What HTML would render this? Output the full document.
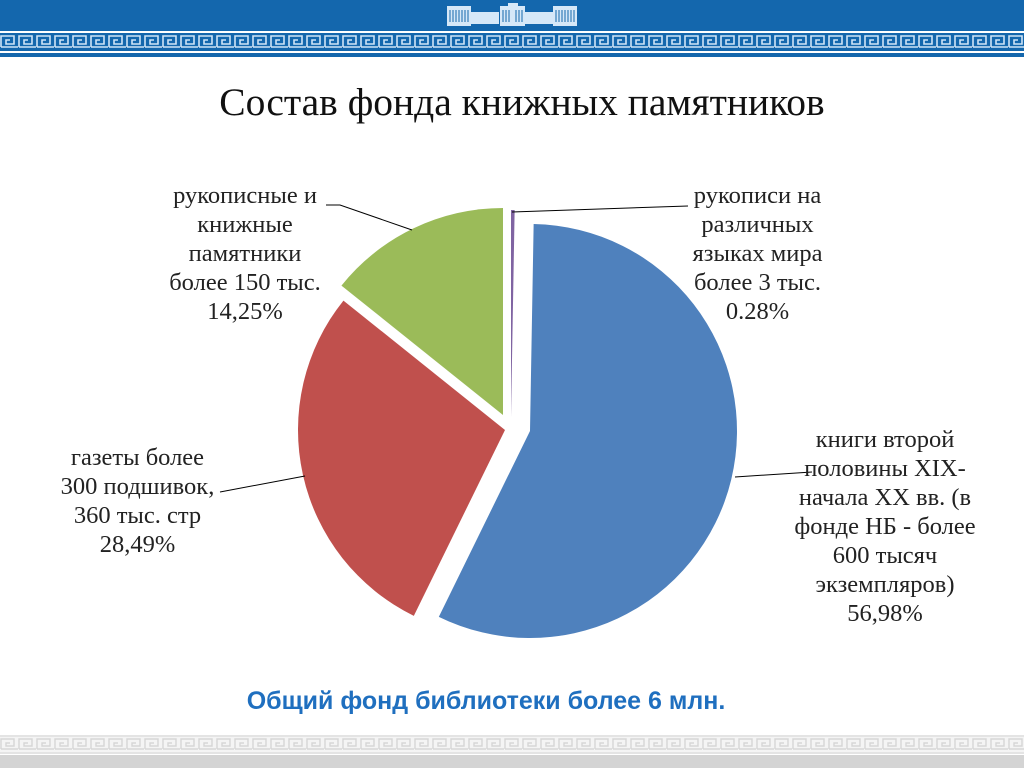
<!DOCTYPE html>
<html><head><meta charset="utf-8"><style>
body{margin:0;width:1024px;height:768px;background:#fff;position:relative;overflow:hidden;font-family:"Liberation Serif",serif;}
.t{position:absolute;font-size:24.5px;color:#222;text-align:center;line-height:29px;white-space:nowrap;}
</style></head><body>
<svg width="1024" height="768" style="position:absolute;left:0;top:0">
<defs>
<pattern id="mk" x="0" y="34" width="18" height="15" patternUnits="userSpaceOnUse">
<rect width="18" height="15" fill="#1467ad"/>
<path d="M1 13 V2 H14 V10 H6 V6 H10" fill="none" stroke="#cfe4f7" stroke-width="1.6"/>
<path d="M1 13 H18" stroke="#cfe4f7" stroke-width="1.6"/>
</pattern>
<pattern id="mg" x="0" y="737" width="18" height="14" patternUnits="userSpaceOnUse">
<rect width="18" height="14" fill="#f4f4f4"/>
<path d="M1 12 V2 H14 V9 H6 V6 H10" fill="none" stroke="#d6d6d6" stroke-width="1.4"/>
<path d="M1 12 H18" stroke="#d6d6d6" stroke-width="1.4"/>
</pattern>
</defs>
<rect x="0" y="0" width="1024" height="31" fill="#1467ad"/>
<rect x="0" y="31" width="1024" height="2" fill="#fff"/>
<rect x="0" y="33" width="1024" height="1" fill="#1467ad"/>
<rect x="0" y="34" width="1024" height="16" fill="url(#mk)"/>
<rect x="0" y="50" width="1024" height="1" fill="#1467ad"/>
<rect x="0" y="51" width="1024" height="2" fill="#fff"/>
<rect x="0" y="53" width="1024" height="4" fill="#1467ad"/>
<g fill="#d6e8f8">
<rect x="447" y="6" width="24" height="20"/>
<rect x="471" y="12" width="28" height="12"/>
<rect x="500" y="6" width="25" height="20"/>
<rect x="525" y="12" width="28" height="12"/>
<rect x="553" y="6" width="24" height="20"/>
<rect x="508" y="3" width="10" height="4"/>
</g>
<g stroke="#1467ad" stroke-width="1">
<path d="M450 10V22M453 10V22M456 10V22M459 10V22M462 10V22M465 10V22M468 10V22M503 10V22M506 10V22M509 10V22M516 10V22M519 10V22M522 10V22M556 10V22M559 10V22M562 10V22M565 10V22M568 10V22M571 10V22M574 10V22"/>
</g>
<rect x="0" y="735" width="1024" height="2" fill="#e4e4e4"/>
<rect x="0" y="737" width="1024" height="15" fill="url(#mg)"/>
<rect x="0" y="752" width="1024" height="2" fill="#e4e4e4"/>
<rect x="0" y="755" width="1024" height="13" fill="#d4d4d4"/>
<g id="pie"></g>
<g stroke="#000" stroke-width="1" fill="none">
<polyline points="326,205 340,205 412,230"/>
<polyline points="512,212 688,206"/>
<polyline points="220,492 305,476"/>
<polyline points="735,477 812,472"/>
</g>
<text x="522" y="115" text-anchor="middle" font-family="Liberation Serif,serif" font-size="39.5" fill="#111">Состав фонда книжных памятников</text>
<text x="486" y="709" text-anchor="middle" font-family="Liberation Sans,sans-serif" font-weight="bold" font-size="25" fill="#1f6fbf">Общий фонд библиотеки более 6 млн.</text>
</svg>
<div class="t" style="left:140px;top:181px;width:210px">рукописные и<br>книжные<br>памятники<br>более 150 тыс.<br>14,25%</div>
<div class="t" style="left:660px;top:181px;width:195px">рукописи на<br>различных<br>языках мира<br>более 3 тыс.<br>0.28%</div>
<div class="t" style="left:35px;top:443px;width:205px">газеты более<br>300 подшивок,<br>360 тыс. стр<br>28,49%</div>
<div class="t" style="left:785px;top:425px;width:200px">книги второй<br>половины XIX-<br>начала XX вв. (в<br>фонде НБ - более<br>600 тысяч<br>экземпляров)<br>56,98%</div>
<script>
var r=207,g=document.getElementById('pie');
var s=[[0,0.28,'#8064a2',511,417],[0.28,57.26,'#4f81bd',530,431],[57.26,85.75,'#c0504d',505,430],[85.75,100,'#9bbb59',503,415]];
s.forEach(function(d){
 var a0=d[0]*3.6*Math.PI/180,a1=d[1]*3.6*Math.PI/180,cx=d[3],cy=d[4];
 var x0=cx+r*Math.sin(a0),y0=cy-r*Math.cos(a0),x1=cx+r*Math.sin(a1),y1=cy-r*Math.cos(a1);
 var p=document.createElementNS('http://www.w3.org/2000/svg','path');
 p.setAttribute('d','M'+cx+' '+cy+' L'+x0+' '+y0+' A'+r+' '+r+' 0 '+((a1-a0)>Math.PI?1:0)+' 1 '+x1+' '+y1+' Z');
 p.setAttribute('fill',d[2]);g.appendChild(p);
});
</script>
</body></html>
